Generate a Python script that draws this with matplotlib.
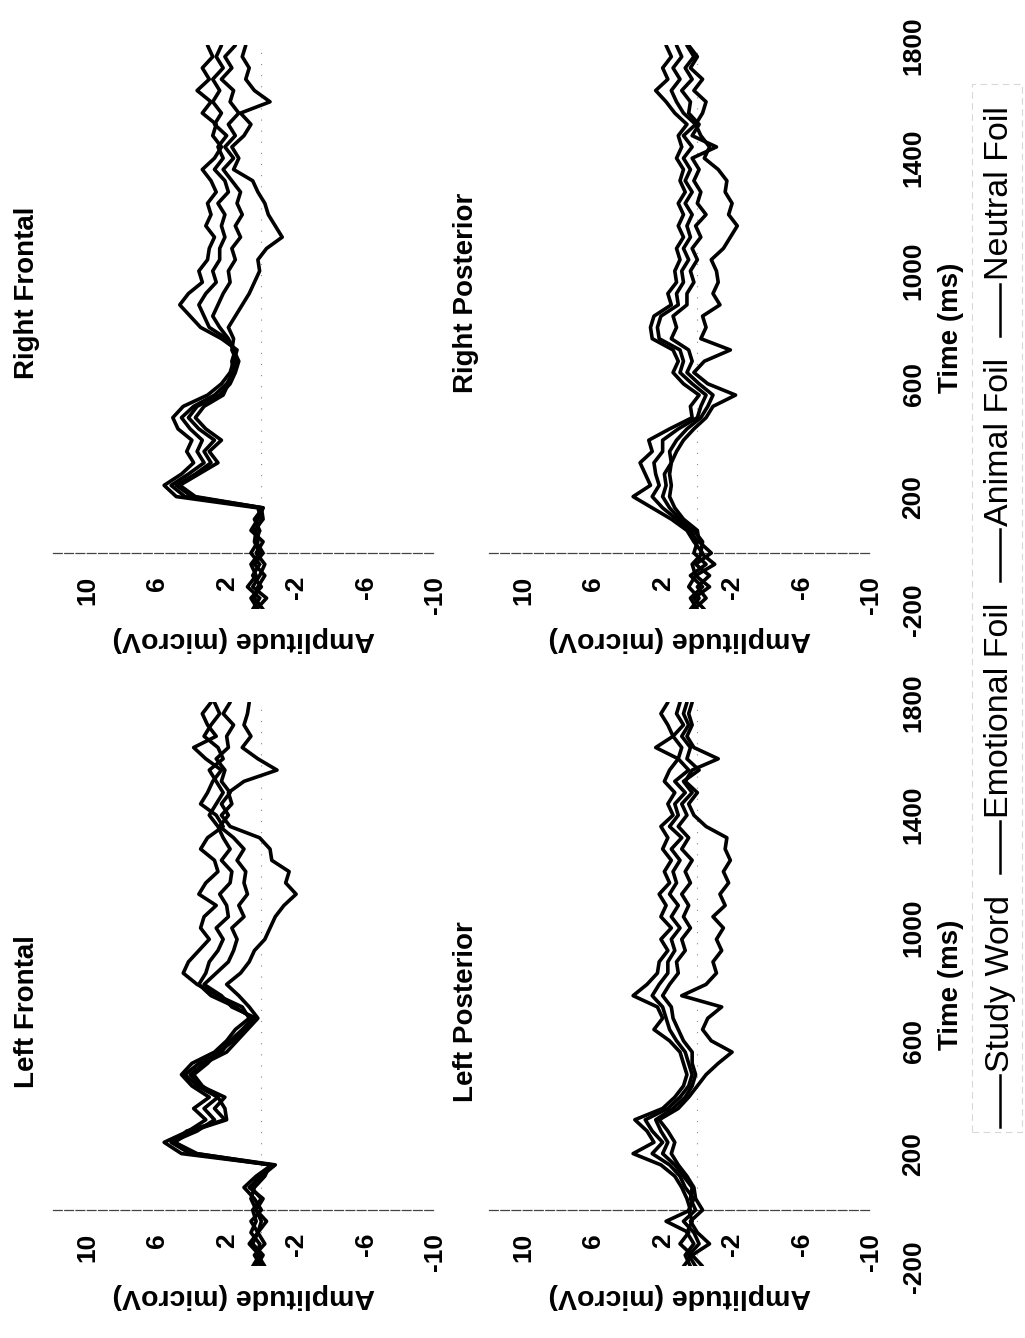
import numpy as np
import matplotlib
matplotlib.use("Agg")
import matplotlib.pyplot as plt
from matplotlib import font_manager
from matplotlib.lines import Line2D
from matplotlib.patches import Rectangle

W, H = 1025, 1338


def has_font(name):
    try:
        font_manager.findfont(font_manager.FontProperties(family=name),
                              fallback_to_default=False)
        return True
    except Exception:
        return False


BASE = "Liberation Sans" if has_font("Liberation Sans") else "DejaVu Sans"
plt.rcParams["font.family"] = [BASE, "DejaVu Sans"]
plt.rcParams["font.weight"] = "bold"

# ---- data -----------------------------------------------------------------
time_ms = np.arange(-200, 1801, 40)          # sample times (ms)
series_names = ["Study Word", "Emotional Foil", "Animal Foil", "Neutral Foil"]
amp_ticks = [10, 6, 2, -2, -6, -10]
time_ticks = [-200, 200, 600, 1000, 1400, 1800]

# Left Frontal (microV)
lf_study = [0.3, -0.1, 0.5, 0.2, 0.6, 0.0, 0.4, 1.0, 0.3, -0.6, 4.6, 5.6, 4.2, 3.2, 3.9, 3.0, 4.0,
            4.6, 4.0, 2.7, 2.0, 1.5, 0.7, 1.1, 2.5, 3.7, 4.5, 4.2, 3.6, 3.0, 3.5, 3.3, 2.6, 3.6,
            3.2, 2.5, 2.7, 3.5, 3.1, 2.2, 2.6, 3.5, 3.1, 2.8, 2.3, 3.2, 3.9, 2.6, 3.1, 3.4, 2.9]
lf_emotional = [0.5, 0.1, 0.7, 0.2, 0.0, 0.3, 0.6, 0.4, -0.2, -0.5, 4.1, 5.2, 3.7, 2.7, 3.3, 2.5,
                3.7, 4.4, 3.6, 2.3, 1.8, 1.1, 0.5, 1.5, 2.9, 3.6, 3.2, 3.0, 2.5, 2.2, 2.6, 1.9, 2.0,
                2.4, 1.8, 1.7, 2.3, 1.8, 2.2, 2.5, 3.0, 2.6, 2.2, 2.6, 3.0, 2.2, 2.5, 3.3, 2.9, 2.4,
                2.7]
lf_animal = [-0.2, 0.2, 0.1, 0.6, 0.3, 0.5, 0.0, 0.6, 0.1, -0.6, 3.7, 5.0, 4.0, 2.0, 2.1, 2.5, 3.4,
             3.9, 3.1, 2.5, 1.6, 0.9, 0.3, 1.7, 2.3, 3.3, 2.6, 1.9, 1.6, 1.4, 1.7, 1.0, 1.3, 0.8,
             1.0, 0.9, 1.4, 1.0, 1.6, 2.4, 1.9, 2.3, 1.8, 2.3, 2.1, 2.6, 1.9, 2.0, 1.6, 2.2, 1.8]
lf_neutral = [0.0, 0.4, -0.2, 0.2, -0.3, 0.3, -0.1, 0.7, 0.0, -0.8, 3.8, 5.0, 4.3, 2.1, 2.7, 2.1,
              3.5, 4.1, 3.3, 2.0, 1.4, 0.8, 0.2, 0.7, 1.3, 2.0, 1.2, 0.7, 0.4, -0.2, -0.5, -0.8,
              -1.3, -2.0, -1.4, -1.6, -0.6, -0.5, 0.1, 1.8, 2.3, 1.7, 1.9, 1.0, -0.9, 0.2, 1.1,
              0.6, 1.0, 0.8, 0.7]

# Right Frontal (microV)
rf_study = [0.5, 0.1, 0.8, 0.3, 0.6, 0.1, 0.4, 0.3, 0.0, 0.2, 4.9, 5.6, 4.6, 3.9, 4.3, 4.0, 4.8,
            5.1, 4.5, 3.1, 2.3, 1.8, 1.6, 1.4, 2.3, 3.5, 4.1, 4.7, 4.2, 3.4, 3.6, 3.1, 3.0, 2.7,
            3.2, 2.9, 3.1, 2.6, 2.9, 3.4, 2.7, 2.3, 2.8, 2.6, 3.4, 2.9, 3.7, 3.0, 3.4, 2.8, 3.1]
rf_emotional = [0.2, 0.6, 0.0, 0.5, 0.1, 0.6, 0.2, 0.4, -0.1, 0.0, 4.4, 5.2, 4.2, 3.3, 3.7, 3.4,
                4.1, 4.6, 3.9, 2.7, 2.0, 1.6, 1.7, 1.5, 2.0, 3.0, 3.3, 3.6, 3.2, 2.6, 2.8, 2.4, 2.4,
                2.1, 2.3, 2.1, 2.5, 1.9, 2.1, 2.7, 2.2, 2.5, 2.0, 2.7, 2.3, 2.8, 2.4, 2.8, 2.2, 2.6,
                2.3]
rf_animal = [-0.1, 0.4, 0.2, -0.2, 0.4, -0.1, 0.3, 0.1, 0.4, -0.1, 4.0, 4.9, 3.8, 2.9, 3.3, 2.7,
             3.6, 4.2, 3.7, 2.4, 1.8, 1.5, 1.3, 1.6, 1.9, 2.4, 2.8, 2.5, 2.2, 1.8, 1.9, 1.5, 1.7,
             1.2, 1.5, 1.1, 1.4, 1.2, 1.7, 2.2, 1.6, 2.1, 1.5, 1.9, 1.3, 1.8, 1.6, 2.3, 1.7, 2.1,
             1.5]
rf_neutral = [0.3, -0.3, 0.5, 0.1, -0.2, 0.3, -0.1, 0.6, 0.2, -0.1, 3.8, 4.7, 3.6, 2.5, 3.0, 2.3,
              3.2, 3.8, 3.3, 2.2, 1.9, 1.7, 1.4, 1.7, 1.6, 1.9, 1.5, 1.1, 0.7, 0.4, 0.1, 0.2, -0.3,
              -1.2, -0.8, -0.4, -0.2, 0.2, 0.5, 1.6, 1.3, 1.7, 1.0, 0.6, 1.2, -0.5, 0.4, 0.9, 0.7,
              1.1, 0.9]

# Left Posterior (microV)
lp_study = [0.8, 0.3, 1.0, 0.5, 1.8, 0.4, 0.6, 0.9, 1.3, 2.1, 3.7, 2.5, 2.9, 3.6, 2.0, 1.3, 0.8,
            0.6, 0.8, 1.0, 1.6, 2.5, 2.0, 2.3, 3.7, 2.9, 2.3, 2.2, 1.7, 2.1, 1.5, 2.1, 1.8, 2.2,
            1.6, 1.9, 1.5, 2.0, 1.7, 2.1, 1.4, 1.7, 1.3, 1.9, 1.6, 1.1, 2.4, 1.4, 1.7, 2.1, 1.7]
lp_emotional = [0.4, 0.7, 0.2, 0.6, 0.3, 0.5, 0.2, 0.7, 1.0, 1.6, 2.6, 2.0, 2.6, 3.0, 1.7, 1.0, 0.5,
                0.3, 0.5, 0.7, 1.2, 1.6, 1.8, 2.0, 2.6, 2.2, 1.7, 1.7, 1.3, 1.5, 1.0, 1.5, 1.1, 1.6,
                1.2, 1.4, 1.0, 1.5, 0.9, 1.6, 1.1, 1.3, 0.7, 1.3, 0.5, 1.1, 0.9, 1.4, 0.8, 1.2, 1.0]
lp_animal = [0.1, 0.5, -0.1, 0.2, 0.8, 0.1, 0.4, 0.3, 0.8, 1.3, 2.0, 1.7, 2.1, 2.4, 1.4, 0.7, 0.3,
             0.1, 0.3, 0.3, 0.8, 1.1, 1.4, 1.5, 2.0, 1.6, 1.1, 1.2, 0.7, 0.9, 0.4, 0.8, 0.5, 0.9,
             0.4, 0.7, 0.3, 0.9, 0.5, 1.1, 0.6, 0.9, 0.3, 0.8, -0.1, 0.6, 0.4, 0.9, 0.5, 0.8, 0.6]
lp_neutral = [-0.3, 0.3, -0.7, 0.0, 0.4, -0.3, 0.1, 0.2, 0.6, 1.1, 1.5, 1.3, 1.7, 2.2, 1.1, 0.5, 0.0,
              -0.5, -1.2, -2.0, -0.8, -0.3, -0.6, -1.4, 0.9, -0.5, -1.1, -0.9, -1.4, -1.1, -1.5,
              -0.9, -1.6, -1.3, -1.8, -1.5, -1.9, -1.6, -1.7, -0.5, 0.2, 0.5, 0.0, 0.7, 0.3, -1.2,
              0.2, 0.6, 0.3, 0.5, 0.3]

# Right Posterior (microV)
rp_study = [0.4, -0.1, 0.5, 0.1, 0.3, -0.3, 0.2, 0.6, 1.5, 2.6, 3.7, 2.7, 3.0, 3.3, 2.6, 2.8, 1.6,
            0.3, 0.4, -0.1, 0.8, 1.4, 1.1, 1.4, 2.6, 2.7, 2.5, 1.5, 1.7, 1.2, 1.3, 1.0, 1.2, 0.8,
            1.1, 0.8, 1.1, 0.7, 1.0, 0.8, 1.2, 0.9, 1.1, 0.6, 1.3, 1.8, 2.4, 1.7, 2.0, 1.5, 1.8]
rp_emotional = [0.0, 0.4, -0.3, 0.4, -0.5, 0.2, 0.0, 0.4, 1.2, 2.0, 2.6, 2.2, 2.4, 2.5, 2.0, 2.0,
                1.1, 0.0, -0.2, -0.5, 0.3, 1.0, 0.8, 1.0, 2.2, 2.3, 2.1, 1.1, 1.2, 0.8, 0.9, 0.5,
                0.8, 0.4, 0.6, 0.3, 0.7, 0.3, 0.7, 0.4, 0.8, 0.3, 0.8, 0.1, 0.8, 1.2, 1.5, 1.0, 1.4,
                0.9, 1.2]
rp_animal = [-0.4, 0.2, -0.7, 0.1, -1.0, -0.2, -0.3, 0.2, 1.0, 1.6, 2.0, 1.8, 1.9, 1.5, 1.6, 1.2,
             0.6, -0.2, -0.6, -0.9, -0.1, 0.6, 0.3, 0.5, 1.5, 1.2, 1.4, 0.6, 0.6, 0.2, 0.4, 0.0,
             0.3, -0.2, 0.1, -0.5, 0.0, -0.2, 0.2, -0.1, 0.3, -1.1, 0.3, -0.1, 0.5, 0.4, 0.9, 0.3,
             0.7, 0.2, 0.6]
rp_neutral = [0.2, -0.5, 0.0, -0.7, 0.1, -0.8, -0.1, 0.0, 0.8, 1.3, 1.6, 1.5, 1.6, 1.5, 1.2, 0.8,
              0.2, -0.5, -0.9, -2.2, -0.6, 0.2, -0.4, -1.9, -0.2, -0.5, -0.3, -1.3, -0.9, -1.2,
              -1.1, -0.8, -1.5, -1.9, -2.3, -1.8, -2.0, -1.6, -1.7, -1.2, -0.4, -0.7, -0.2, 0.1,
              -0.3, -0.5, 0.2, -0.3, 0.4, 0.0, 0.5]

panels = [
    ("Left Frontal", [lf_study, lf_emotional, lf_animal, lf_neutral], "frontal", "left"),
    ("Right Frontal", [rf_study, rf_emotional, rf_animal, rf_neutral], "frontal", "right"),
    ("Left Posterior", [lp_study, lp_emotional, lp_animal, lp_neutral], "posterior", "left"),
    ("Right Posterior", [rp_study, rp_emotional, rp_animal, rp_neutral], "posterior", "right"),
]

# ---- layout (page is turned: time runs upward, amplitude decreases to the right)
AMP_LIM = (12, -10)
TIME_LIM = (-200, 1800)
PX_PER_MS = 0.282
ROW_X = {"frontal": 53, "posterior": 489}          # px of left edge
AX_W = 382
COL_YB = {"left": 1266.4, "right": 609.4}          # px of bottom edge (from top)
AX_H = (TIME_LIM[1] - TIME_LIM[0]) * PX_PER_MS
TITLE_POS = {("frontal", "left"): (27, 1012), ("frontal", "right"): (27, 293),
             ("posterior", "left"): (466, 1012), ("posterior", "right"): (466, 293)}

fig = plt.figure(figsize=(W / 100, H / 100), dpi=100)
fig.patch.set_facecolor("white")

TICK_FS = 19

for title, series, row, col in panels:
    x0 = ROW_X[row]
    yb = COL_YB[col]
    ax = fig.add_axes([x0 / W, 1 - yb / H, AX_W / W, AX_H / H])
    ax.patch.set_visible(False)
    for vals in series:
        ax.plot(vals, time_ms, color="black", lw=2.6, solid_joinstyle="round",
                solid_capstyle="round", zorder=3)
    ax.axvline(0, color="#8a8a8a", lw=0.8, dashes=(1.0, 9.0), zorder=1)
    ax.set_xlim(*AMP_LIM)
    ax.set_ylim(*TIME_LIM)
    for side in ("top", "right", "left"):
        ax.spines[side].set_visible(False)
    sp = ax.spines["bottom"]
    sp.set_position(("data", 0))
    sp.set_linestyle((0, (7, 2)))
    sp.set_color("#444444")
    sp.set_linewidth(0.9)

    ax.set_xticks(amp_ticks)
    ax.set_xticklabels([str(v) for v in amp_ticks])
    ax.tick_params(axis="x", length=0, pad=16.5, labelsize=TICK_FS)
    for lbl in ax.get_xticklabels():
        lbl.set_rotation(90)
        lbl.set_fontweight("bold")
    ax.set_xlabel("Amplitude (microV)", rotation=180, fontsize=20.5,
                  fontweight="bold", labelpad=9)

    ax.set_yticks(time_ticks)
    if row == "posterior":
        ax.yaxis.tick_right()
        ax.set_yticklabels([str(v) for v in time_ticks])
        ax.tick_params(axis="y", length=0, pad=22, labelsize=TICK_FS)
        for lbl in ax.get_yticklabels():
            lbl.set_rotation(90)
            lbl.set_va("center")
            lbl.set_fontweight("bold")
        ax.yaxis.set_label_position("right")
        ax.set_ylabel("Time (ms)", rotation=90, fontsize=20, fontweight="bold",
                      labelpad=9)
    else:
        ax.tick_params(axis="y", left=False, right=False, labelleft=False,
                       labelright=False)

    tx, ty = TITLE_POS[(row, col)]
    fig.text(tx / W, 1 - ty / H, title, rotation=90, ha="center", va="center",
             fontsize=20, fontweight="bold")

# ---- legend, written along the right edge ---------------------------------
renderer = fig.canvas.get_renderer()
lx = 1000
y = 1127.0
for name in series_names:
    fig.add_artist(Line2D([lx / W, lx / W], [1 - y / H, 1 - (y - 52) / H],
                          color="black", lw=1.8, transform=fig.transFigure))
    y -= 55
    t = fig.text(lx / W, 1 - y / H, name, rotation=90, ha="center", va="bottom",
                 fontsize=24.5, fontweight="normal")
    bb = t.get_window_extent(renderer)
    y = H - bb.y1 - 22

fig.add_artist(Rectangle((972 / W, 1 - 1132 / H), 50 / W, (1132 - 84) / H,
                         transform=fig.transFigure, fill=False,
                         edgecolor="#d8d8d8", lw=0.8, linestyle=(0, (6, 4))))

fig.savefig("out.png", dpi=100)
